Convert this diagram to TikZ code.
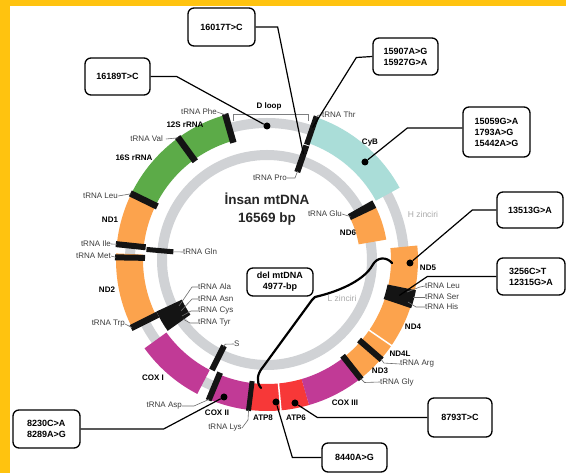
\documentclass[tikz,border=0pt]{standalone}
\usepackage{fontspec}
\setmainfont{Liberation Sans}
\definecolor{yellowb}{RGB}{255,195,15}
\definecolor{ringgrey}{RGB}{208,210,213}
\definecolor{mtgreen}{RGB}{92,171,72}
\definecolor{mtorange}{RGB}{252,163,77}
\definecolor{mtmagenta}{RGB}{193,58,150}
\definecolor{mtred}{RGB}{247,56,56}
\definecolor{mtcyan}{RGB}{170,221,216}
\definecolor{labtext}{RGB}{60,60,60}
\definecolor{leadgrey}{RGB}{110,110,110}
\definecolor{strandgrey}{RGB}{170,170,170}
\definecolor{barblack}{RGB}{20,20,20}
\newcommand{\mtseg}[5]{\fill[#1] (#2:#4pt) arc[start angle=#2, end angle=#3, radius=#4pt] -- (#3:#5pt) arc[start angle=#3, end angle=#2, radius=#5pt] -- cycle;}
\newcommand{\mtbar}[4]{\draw[barblack, line width=#4pt] (#1:#2pt) -- (#1:#3pt);}
\begin{document}
\begin{tikzpicture}[x=1pt,y=1pt,
  lbl/.style={font=\fontsize{8}{9}\selectfont, text=labtext, inner sep=0pt},
  bl/.style={font=\fontsize{8}{9}\selectfont\bfseries, text=black, inner sep=0pt},
  strand/.style={font=\fontsize{8.5}{9}\selectfont, text=strandgrey, inner sep=0pt},
  mbox/.style={draw, line width=1.3pt, rounded corners=6pt, fill=white, font=\fontsize{9}{11}\selectfont\bfseries, align=left, inner sep=0pt},
  conn/.style={line width=1.2pt, black},
  lead/.style={line width=0.6pt, leadgrey},
  mdot/.style={circle, fill=black, inner sep=0pt, minimum size=7pt},
  delline/.style={line width=2.2pt, black, line cap=round, line join=round}]
\useasboundingbox (-267,-213) rectangle (299,260);
\fill[white] (-267,-213) rectangle (299,260);
\fill[yellowb] (-267,253.5) rectangle (299,260);
\fill[yellowb] (-267,-213) rectangle (-256.5,260);
% rings
\draw[ringgrey, line width=10pt] (0,0) circle[radius=137pt];
\draw[ringgrey, line width=10pt] (0,0) circle[radius=105pt];
% outer segments
\mtseg{mtgreen}{106}{154}{124}{151}
\mtseg{mtorange}{154}{175}{124}{151}
\mtseg{mtorange}{177.5}{206.6}{124}{151}
\mtseg{mtmagenta}{215.8}{242.5}{124}{151}
\mtseg{mtmagenta}{248}{263}{124}{151}
\mtseg{mtred}{263}{286.2}{124}{151}
\mtseg{mtmagenta}{286.2}{308.3}{124}{151}
\mtseg{mtorange}{308.3}{348.5}{124}{151}
\mtseg{mtorange}{348.5}{365.5}{124}{151}
\mtseg{mtcyan}{28.6}{71}{124}{151}
% inner features
\mtseg{mtorange}{9.7}{26}{93}{121}
\mtseg{barblack}{25.5}{29.5}{93}{121}
\mtseg{barblack}{205}{215.5}{94}{122}
% bars
\mtbar{106}{122}{152}{6.5}
\mtbar{126}{122}{152}{6.5}
\mtbar{154}{122}{152}{6.5}
\mtbar{174}{122}{152}{6}
\mtbar{179}{122}{152}{6}
\mtbar{206.6}{122}{152}{6.5}
\mtbar{247.4}{122}{152}{6}
\mtbar{263}{122}{152}{5}
\mtbar{308.3}{122}{152}{6}
\mtbar{319}{122}{152}{6}
\mtseg{barblack}{341.5}{348.5}{123}{152}
\mtbar{71}{122}{152}{5.5}
\mtbar{71}{93}{121}{6}
\mtbar{175}{94}{121}{5}
\mtbar{243.4}{96}{123}{6}
% white separators
\draw[white, line width=1.5pt] (275.3:123pt) -- (275.3:152pt);
\draw[white, line width=1.5pt] (325.5:123pt) -- (325.5:152pt);
% deletion
\coordinate (delS) at (125,-3);
\coordinate (delE) at (-6,-128);
\draw[delline] (delS) .. controls (120,3) and (110,4) .. (105,-6) .. controls (98,-18) and (78,-30) .. (48,-37) -- (45,-40) -- (-4,-107) .. controls (-10,-114) and (-11,-122) .. (delE);
% title
\node[font=\fontsize{13.5}{17.5}\selectfont\bfseries, text=black!85, align=center] (title) at (0,51) {İnsan mtDNA\\16569 bp};
% labels
\node[bl] (lDloop) at (2,154) {D loop};
\coordinate (brL) at (-34,139);
\coordinate (brR) at (41,139);
\draw[lead, ringgrey!60!black] (brL) -- ++(0,7) -| (brR);
\node[lbl, anchor=east] (lPhe) at (-50,148) {tRNA Phe};
\draw[lead] (lPhe.east) -- (106:151pt);
\node[bl] (l12S) at (-82,135) {12S rRNA};
\node[lbl, anchor=east] (lVal) at (-104,121) {tRNA Val};
\draw[lead] ([xshift=3pt]lVal.east) -- (126:151pt);
\node[bl] (l16S) at (-133,102) {16S rRNA};
\node[lbl, anchor=east] (lLeu) at (-149,64) {tRNA Leu};
\draw[lead] (lLeu.east) -- (154:151pt);
\node[bl] (lND1) at (-157,40) {ND1};
\node[lbl, anchor=east] (lIle) at (-156,16) {tRNA Ile};
\draw[lead] (lIle.east) -- (174:151pt);
\node[lbl, anchor=east] (lMet) at (-156,4) {tRNA Met};
\draw[lead] (lMet.east) -- (179:151pt);
\node[lbl, anchor=west] (lGln) at (-84,8) {tRNA Gln};
\draw[lead] (lGln.west) -- (175:94pt);
\node[bl] (lND2) at (-160,-30) {ND2};
\node[lbl, anchor=east] (lTrp) at (-142,-64) {tRNA Trp};
\draw[lead] (lTrp.east) -- (206.6:151pt);
\node[lbl, anchor=west] (lAla) at (-69,-27) {tRNA Ala};
\node[lbl, anchor=west] (lAsn) at (-69,-39) {tRNA Asn};
\node[lbl, anchor=west] (lCys) at (-69,-51) {tRNA Cys};
\node[lbl, anchor=west] (lTyr) at (-69,-63) {tRNA Tyr};
\coordinate (pAla) at (-88,-46);
\coordinate (pAsn) at (-86,-51);
\coordinate (pCys) at (-85,-56);
\coordinate (pTyr) at (-84,-59);
\draw[lead] (lAla.west) -- ++(-6,0) -- (pAla);
\draw[lead] (lAsn.west) -- ++(-6,0) -- (pAsn);
\draw[lead] (lCys.west) -- ++(-7,0) -- (pCys);
\draw[lead] (lTyr.west) -- ++(-8,0) -- (pTyr);
\node[lbl, anchor=west] (lS) at (-33,-84) {S};
\draw[lead] (243.4:97pt) -- ++(1.5,2.5) -- (lS.west);
\node[bl] (lCOXI) at (-114,-118) {COX I};
\node[lbl, anchor=east] (lAsp) at (-85,-146) {tRNA Asp};
\draw[lead] (lAsp.east) -- ++(12,0) -- (247.4:151pt);
\node[bl] (lCOXII) at (-50,-153) {COX II};
\node[lbl] (lLys) at (-42,-168) {tRNA Lys};
\draw[lead] (lLys.east) -- (-19,-160) -- (263:151pt);
\node[bl] (lATP8) at (-4,-158) {ATP8};
\node[bl] (lATP6) at (29,-158) {ATP6};
\node[bl] (lCOXIII) at (78,-143) {COX III};
\node[lbl, anchor=west] (lGly) at (113,-122) {tRNA Gly};
\draw[lead] (308.3:151pt) -- ++(4,-4) -- (lGly.west);
\node[bl] (lND3) at (113,-111) {ND3};
\node[bl] (lND4L) at (133,-94) {ND4L};
\node[lbl, anchor=west] (lArg) at (133,-104) {tRNA Arg};
\draw[lead] (319:151pt) -- ++(3,-4) -- (lArg.west);
\node[bl] (lND4) at (146,-67) {ND4};
\node[lbl, anchor=west] (lLeu2) at (158,-26) {tRNA Leu};
\node[lbl, anchor=west] (lSer) at (158,-37) {tRNA Ser};
\node[lbl, anchor=west] (lHis) at (158,-47) {tRNA His};
\coordinate (pLeu2) at (140,-32);
\coordinate (pSer) at (146,-37);
\coordinate (pHis) at (141,-42);
\draw[lead] (lLeu2.west) -- (153,-27) -- (pLeu2);
\draw[lead] (lSer.west) -- (pSer);
\draw[lead] (lHis.west) -- (149,-47) -- (pHis);
\node[bl] (lND5) at (161,-8) {ND5};
\node[bl] (lND6) at (81,27) {ND6};
\node[lbl, anchor=east] (lGlu) at (75,46) {tRNA Glu};
\draw[lead] (lGlu.east) -- (27.5:94pt);
\node[strand] (lH) at (156,46) {H zinciri};
\node[strand] (lL) at (75,-38) {L zinciri};
\node[bl] (lCyB) at (103,117) {CyB};
\node[lbl, anchor=west] (lThr) at (55,145) {tRNA Thr};
\draw[lead] (71:151pt) -- ++(2,2) -- (lThr.west);
\node[lbl, anchor=east] (lPro) at (20,82) {tRNA Pro};
\draw[lead] (lPro.east) -- ++(8,0) -- (71:94pt);
% dots
\node[mdot] (dD) at (0,134) {};
\node[mdot] (dCyB) at (98,98) {};
\node[mdot] (dND5) at (143,-3) {};
\node[mdot] (dCOXII) at (-43,-137) {};
\node[mdot] (dATP8) at (9,-142) {};
\node[mdot] (dATP6) at (28,-143) {};
\coordinate (pPro) at (71:112pt);
\coordinate (pThr) at (71:140pt);
\coordinate (pBlock) at (345:137pt);
% boxes
\node[mbox, minimum width=67pt, minimum height=38pt] (b16017) at (-45.5,233) {16017T>C};
\node[mbox, minimum width=65pt, minimum height=37pt] (b16189) at (-149.5,183.5) {16189T>C};
\node[mbox, minimum width=65pt, minimum height=37pt] (b15907) at (138.5,203.5) {15907A>G\\15927G>A};
\node[mbox, minimum width=67pt, minimum height=50pt] (b15059) at (229.5,128) {15059G>A\\1793A>G\\15442A>G};
\node[mbox, minimum width=66pt, minimum height=36pt] (b13513) at (263,50) {13513G>A};
\node[mbox, minimum width=68pt, minimum height=37pt] (b3256) at (264,-16.5) {3256C>T\\12315G>A};
\node[mbox, minimum width=67pt, minimum height=38pt] (b8230) at (-220.5,-169) {8230C>A\\8289A>G};
\node[mbox, minimum width=65pt, minimum height=29pt] (b8440) at (87.5,-197.5) {8440A>G};
\node[mbox, minimum width=64pt, minimum height=39pt] (b8793) at (193,-157.5) {8793T>C};
\node[mbox, align=center, minimum width=66pt, minimum height=28pt] (bdel) at (13,-22) {del mtDNA\\4977-bp};
% connectors
\draw[conn] (b16017.east) -- ++(22,0) -- (pPro);
\draw[conn] (b16189.east) -- ++(26,0) -- (dD);
\draw[conn] (b15907.west) -- ++(-16,-1) -- (pThr);
\draw[conn] ([yshift=4pt]b15059.west) -- ++(-55,0) -- (dCyB);
\draw[conn] (b13513.west) -- ++(-24,0) -- (dND5);
\draw[conn] (b3256.west) -- ++(-69,0) -- (pBlock);
\draw[conn] (b8230.east) -- ++(83,0) -- (dCOXII);
\draw[conn] (b8440.west) -- ++(-29,0) -- (dATP8);
\draw[conn] (b8793.west) -- ++(-110,0) -- (dATP6);
\end{tikzpicture}
\end{document}
